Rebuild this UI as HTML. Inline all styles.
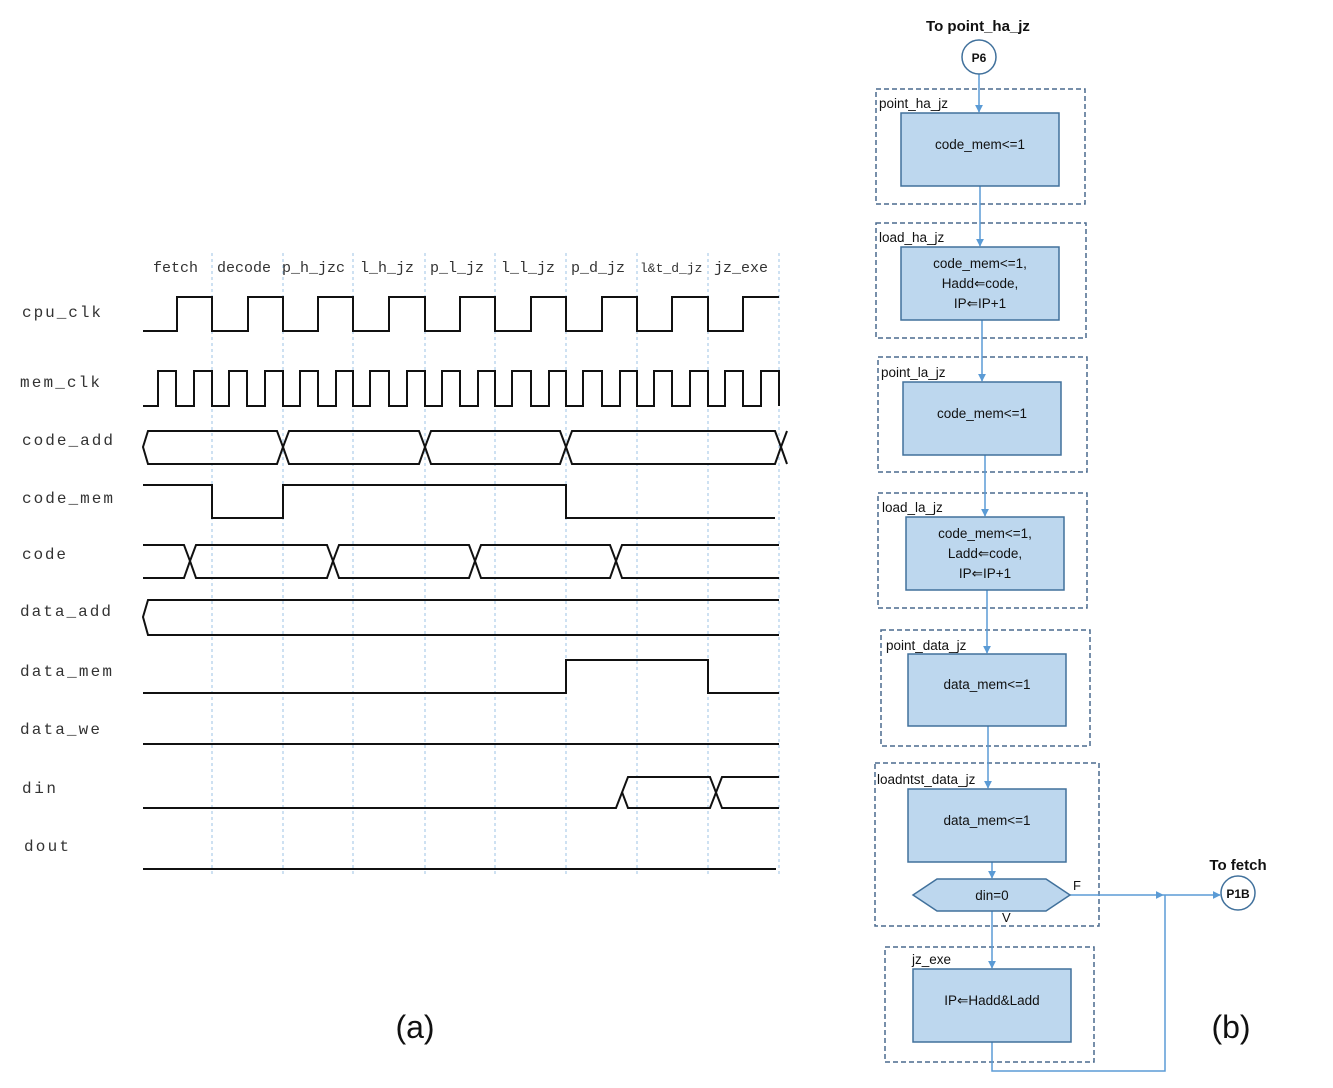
<!DOCTYPE html>
<html><head><meta charset="utf-8"><style>
html,body{margin:0;padding:0;background:#fff}
svg{display:block}
.m{font-family:"Liberation Mono",monospace;fill:#333}
.s{font-family:"Liberation Sans",sans-serif;fill:#111}
</style></head><body>
<svg width="1333" height="1088" viewBox="0 0 1333 1088" xmlns="http://www.w3.org/2000/svg">
<defs>
<marker id="ar" viewBox="0 0 10 10" refX="9" refY="5" markerWidth="8" markerHeight="8" orient="auto" markerUnits="userSpaceOnUse"><path d="M0,0 L10,5 L0,10 z" fill="#5b9bd5"/></marker>
</defs>
<g stroke="#9dc3e6" stroke-width="1" stroke-dasharray="3,3">
<line x1="212" y1="253" x2="212" y2="875"/><line x1="283" y1="253" x2="283" y2="875"/>
<line x1="353" y1="253" x2="353" y2="875"/><line x1="425" y1="253" x2="425" y2="875"/>
<line x1="495" y1="253" x2="495" y2="875"/><line x1="566" y1="253" x2="566" y2="875"/>
<line x1="637" y1="253" x2="637" y2="875"/><line x1="708" y1="253" x2="708" y2="875"/>
<line x1="779" y1="253" x2="779" y2="875"/>
</g>
<g class="m" font-size="15">
<text x="153" y="272">fetch</text><text x="217" y="272">decode</text><text x="282" y="272">p_h_jzc</text>
<text x="360" y="272">l_h_jz</text><text x="430" y="272">p_l_jz</text><text x="501" y="272">l_l_jz</text>
<text x="571" y="272">p_d_jz</text><text x="640" y="272" font-size="13">l&amp;t_d_jz</text><text x="714" y="272">jz_exe</text>
</g>
<g class="m" font-size="16">
<text x="22" y="317" textLength="79">cpu_clk</text>
<text x="20" y="387" textLength="80">mem_clk</text>
<text x="22" y="445" textLength="91">code_add</text>
<text x="22" y="503" textLength="91">code_mem</text>
<text x="22" y="559" textLength="44">code</text>
<text x="20" y="616" textLength="91">data_add</text>
<text x="20" y="676" textLength="92">data_mem</text>
<text x="20" y="734" textLength="80">data_we</text>
<text x="22" y="793" textLength="34">din</text>
<text x="24" y="851" textLength="45">dout</text>
</g>
<g fill="none" stroke="#111" stroke-width="2">
<path d="M143 331 H177 V297 H212 V331 H248 V297 H283 V331 H318 V297 H353 V331 H389 V297 H425 V331 H460 V297 H495 V331 H531 V297 H566 V331 H602 V297 H637 V331 H672 V297 H708 V331 H743 V297 H779"/>
<path d="M143 406 H158 V371 H176 V406 H194 V371 H212 V406 H229 V371 H247 V406 H265 V371 H283 V406 H300 V371 H318 V406 H336 V371 H353 V406 H370 V371 H389 V406 H407 V371 H425 V406 H442 V371 H460 V406 H478 V371 H495 V406 H512 V371 H531 V406 H549 V371 H566 V406 H583 V371 H602 V406 H620 V371 H637 V406 H654 V371 H672 V406 H690 V371 H708 V406 H725 V371 H743 V406 H761 V371 H779 V406"/>
<path d="M148 431 H277 L283 447 L277 464 H148 L143 447 Z"/>
<path d="M283 447 L289 431 H419 L425 447 L419 464 H289 Z"/>
<path d="M425 447 L431 431 H560 L566 447 L560 464 H431 Z"/>
<path d="M566 447 L572 431 H775 L781 447 L775 464 H572 Z"/>
<path d="M781 447 L787 431 M781 447 L787 464"/>
<path d="M143 485 H212 V518 H283 V485 H566 V518 H775"/>
<path d="M143 545 H184 L190 561 L184 578 H143"/>
<path d="M190 561 L196 545 H327 L333 561 L327 578 H196 Z"/>
<path d="M333 561 L339 545 H469 L475 561 L469 578 H339 Z"/>
<path d="M475 561 L481 545 H610 L616 561 L610 578 H481 Z"/>
<path d="M779 545 H622 L616 561 L622 578 H779"/>
<path d="M779 600 H148 L143 617 L148 635 H779"/>
<path d="M143 693 H566 V660 H708 V693 H779"/>
<path d="M143 744 H779"/>
<path d="M143 808 H616 L628 777 H710 L722 808 H779"/>
<path d="M622 792 L628 808 H710 L722 777 H779"/>
<path d="M143 869 H776"/>
</g>
<text x="415" y="1038" class="s" font-size="32" text-anchor="middle">(a)</text>
<text x="1231" y="1038" class="s" font-size="32" text-anchor="middle">(b)</text>

<g fill="none" stroke="#4a6a8e" stroke-width="1.5" stroke-dasharray="5,3">
<rect x="876" y="89" width="209" height="115"/>
<rect x="876" y="223" width="210" height="115"/>
<rect x="878" y="357" width="209" height="115"/>
<rect x="878" y="493" width="209" height="115"/>
<rect x="881" y="630" width="209" height="116"/>
<rect x="875" y="763" width="224" height="163"/>
<rect x="885" y="947" width="209" height="115"/>
</g>
<g fill="none" stroke="#5b9bd5" stroke-width="1.5">
<line x1="979" y1="74" x2="979" y2="112" marker-end="url(#ar)"/>
<line x1="980" y1="186" x2="980" y2="246" marker-end="url(#ar)"/>
<line x1="982" y1="320" x2="982" y2="381" marker-end="url(#ar)"/>
<line x1="985" y1="455" x2="985" y2="516" marker-end="url(#ar)"/>
<line x1="987" y1="590" x2="987" y2="653" marker-end="url(#ar)"/>
<line x1="988" y1="726" x2="988" y2="788" marker-end="url(#ar)"/>
<line x1="992" y1="862" x2="992" y2="878" marker-end="url(#ar)"/>
<line x1="992" y1="911" x2="992" y2="968" marker-end="url(#ar)"/>
<line x1="1070" y1="895" x2="1163" y2="895" marker-end="url(#ar)"/>
<line x1="1163" y1="895" x2="1220" y2="895" marker-end="url(#ar)"/>
<path d="M992 1042 V1071 H1165 V895"/>
</g>
<g fill="#bdd7ee" stroke="#41719c" stroke-width="1.5">
<rect x="901" y="113" width="158" height="73"/>
<rect x="901" y="247" width="158" height="73"/>
<rect x="903" y="382" width="158" height="73"/>
<rect x="906" y="517" width="158" height="73"/>
<rect x="908" y="654" width="158" height="72"/>
<rect x="908" y="789" width="158" height="73"/>
<path d="M913 895 L937 879 H1046 L1070 895 L1046 911 H937 Z"/>
<rect x="913" y="969" width="158" height="73"/>
</g>
<g fill="#fff" stroke="#41719c" stroke-width="1.5">
<circle cx="979" cy="57" r="17"/><circle cx="1238" cy="893" r="17"/>
</g>
<g class="s" font-size="13.5" text-anchor="middle">
<text x="979" y="62" font-weight="bold" font-size="12">P6</text>
<text x="1238" y="898" font-weight="bold" font-size="12">P1B</text>
<text x="978" y="31" font-weight="bold" font-size="15">To point_ha_jz</text>
<text x="1238" y="870" font-weight="bold" font-size="15">To fetch</text>
<text x="980" y="149">code_mem&lt;=1</text>
<text x="980" y="268">code_mem&lt;=1,</text>
<text x="980" y="288">Hadd&#8656;code,</text>
<text x="980" y="308">IP&#8656;IP+1</text>
<text x="982" y="418">code_mem&lt;=1</text>
<text x="985" y="538">code_mem&lt;=1,</text>
<text x="985" y="558">Ladd&#8656;code,</text>
<text x="985" y="578">IP&#8656;IP+1</text>
<text x="987" y="689">data_mem&lt;=1</text>
<text x="987" y="825">data_mem&lt;=1</text>
<text x="992" y="900">din=0</text>
<text x="992" y="1005">IP&#8656;Hadd&amp;Ladd</text>
</g>
<g class="s" font-size="13.5">
<text x="879" y="108">point_ha_jz</text>
<text x="879" y="242">load_ha_jz</text>
<text x="881" y="377">point_la_jz</text>
<text x="882" y="512">load_la_jz</text>
<text x="886" y="650">point_data_jz</text>
<text x="877" y="784">loadntst_data_jz</text>
<text x="912" y="964">jz_exe</text>
<text x="1073" y="890" font-size="13">F</text>
<text x="1002" y="922" font-size="13">V</text>
</g>
</svg>
</body></html>
